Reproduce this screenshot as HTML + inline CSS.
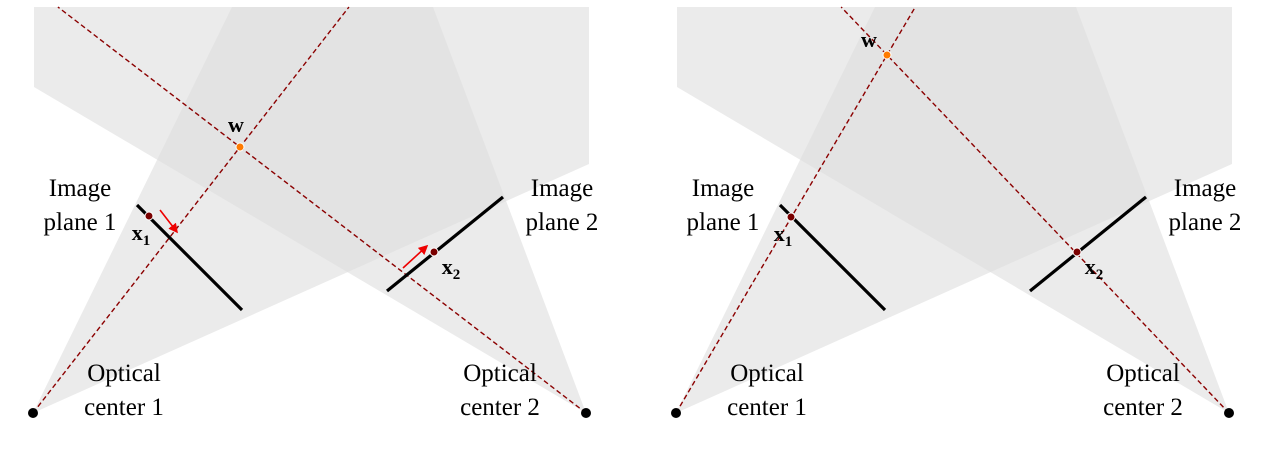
<!DOCTYPE html>
<html><head><meta charset="utf-8"><style>
html,body{margin:0;padding:0;background:#fff;}
svg text{font-family:"Liberation Serif",serif;fill:#000;}
</style></head><body>
<svg width="1263" height="448" viewBox="0 0 1263 448">
<defs>
<marker id="ah" markerWidth="6" markerHeight="6" refX="5" refY="3" orient="auto"><path d="M0,0 L6,3 L0,6 z" fill="#e00"/></marker>
</defs>
<g id="panels"></g>
</svg>
<script>
const panelOffsets=[0,643];
const wPoints=[[240,147],[887,55]];
const x1Points=[[149,216],[791,217]];
const x2Points=[[434,252],[1077,252]];
const NS='http://www.w3.org/2000/svg';
const root=document.getElementById('panels');
const defs=document.querySelector('defs');
function mk(tag,attrs,parent){const e=document.createElementNS(NS,tag);for(const k in attrs)e.setAttribute(k,attrs[k]);(parent||root).appendChild(e);return e;}
function ext(p,q,y){const t=(y-p[1])/(q[1]-p[1]);return [p[0]+t*(q[0]-p[0]),y];}
panelOffsets.forEach((o,i)=>{
  const g=mk('g',{});
  
  
  const c1=[33+o,413],c2=[586+o,413];
  const pts1=`${c1} ${232+o},7 ${589+o},7 ${589+o},164`;
  const pts2=`${c2} ${433+o},7 ${34+o},7 ${34+o},87`;
  const cp=mk('clipPath',{id:'cp'+i},defs);
  mk('polygon',{points:pts2},cp);
  const f1=mk('polygon',{points:pts1,fill:'#ebebeb'},g);
  
  const f2=mk('polygon',{points:pts2,fill:'#ebebeb'},g);
  
  const ov=mk('polygon',{points:pts1,fill:'#e3e3e3','clip-path':'url(#cp'+i+')'},g);
  
  const w=wPoints[i];
  const e1=ext(c1,w,7),e2=ext(c2,w,7);
  const r1=mk('line',{x1:c1[0],y1:c1[1],x2:e1[0],y2:e1[1],stroke:'#8b0000','stroke-width':1.4,'stroke-dasharray':'5,3'},g);
  
  const r2=mk('line',{x1:c2[0],y1:c2[1],x2:e2[0],y2:e2[1],stroke:'#8b0000','stroke-width':1.4,'stroke-dasharray':'5,3'},g);
  
  const p1=mk('line',{x1:137+o,y1:205,x2:242+o,y2:310,stroke:'#000','stroke-width':3.2},g);
  
  const p2=mk('line',{x1:387+o,y1:291,x2:503+o,y2:197,stroke:'#000','stroke-width':3.2},g);
  
  if(i===0){
    const a1=mk('line',{x1:160,y1:210,x2:177,y2:232,stroke:'#e00','stroke-width':1.6,'marker-end':'url(#ah)'},g);
    
    const a2=mk('line',{x1:403,y1:268,x2:427,y2:246,stroke:'#e00','stroke-width':1.6,'marker-end':'url(#ah)'},g);
    
  }
  [[c1,'optical-center-1'],[c2,'optical-center-2']].forEach(([c,n])=>{
    const d=mk('circle',{cx:c[0],cy:c[1],r:5,fill:'#000'},g);
    
  });
  const wd=mk('circle',{cx:w[0],cy:w[1],r:4,fill:'#ff7a00',stroke:'#fff','stroke-width':1},g);
  
  const x1=x1Points[i],x2=x2Points[i];
  const d1=mk('circle',{cx:x1[0],cy:x1[1],r:4,fill:'#7a0000',stroke:'#fff','stroke-width':1},g);
  
  const d2=mk('circle',{cx:x2[0],cy:x2[1],r:4,fill:'#7a0000',stroke:'#fff','stroke-width':1},g);
  
  function txt(x,y,s,n,extra){const t=mk('text',Object.assign({x:x,y:y,'font-size':25,'text-anchor':'middle'},extra||{}),g);t.innerHTML=s;return t;}
  txt(80+o,196,'Image','label-image-plane-1');
  txt(80+o,230,'plane 1','label-image-plane-1b');
  txt(562+o,196,'Image','label-image-plane-2');
  txt(562+o,230,'plane 2','label-image-plane-2b');
  txt(124+o,381,'Optical','label-optical-center-1');
  txt(124+o,415,'center 1','label-optical-center-1b');
  txt(500+o,381,'Optical','label-optical-center-2');
  txt(500+o,415,'center 2','label-optical-center-2b');
  txt(w[0]-4-(i?14:0),w[1]-15+(i?7:0),'w','label-w',{'font-weight':'bold','font-size':22});
  txt(x1[0]-8,x1[1]+24,'x<tspan font-size="15" dy="5">1</tspan>','label-x1',{'font-weight':'bold','font-size':22});
  txt(x2[0]+17,x2[1]+22,'x<tspan font-size="15" dy="5">2</tspan>','label-x2',{'font-weight':'bold','font-size':22});
});
</script>
</body></html>
